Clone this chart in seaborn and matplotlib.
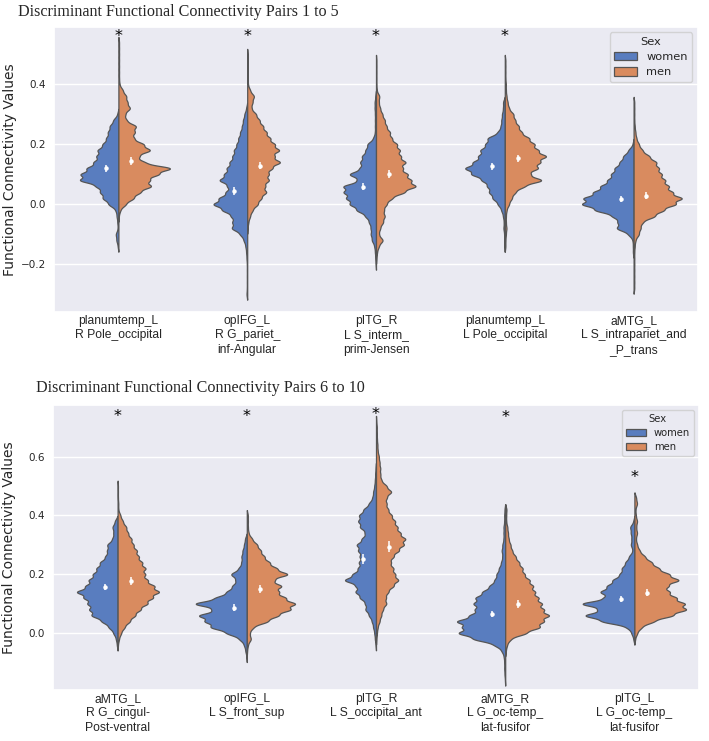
import numpy as np
import pandas as pd
import matplotlib
matplotlib.use("Agg")
import matplotlib.pyplot as plt
import seaborn as sns

# ---------------- data ----------------
SEX = ["women", "men"]
PALETTE = ["#4878D0", "#EE854A"]

TOP_PAIRS = ["planumtemp_L\nR Pole_occipital", "opIFG_L\nR G_pariet_\ninf-Angular",
             "pITG_R\nL S_interm_\nprim-Jensen", "planumtemp_L\nL Pole_occipital",
             "aMTG_L\nL S_intrapariet_and\n_P_trans"]
BOT_PAIRS = ["aMTG_L\nR G_cingul-\nPost-ventral", "opIFG_L\nL S_front_sup",
             "pITG_R\nL S_occipital_ant", "aMTG_R\nL G_oc-temp_\nlat-fusifor",
             "pITG_L\nL G_oc-temp_\nlat-fusifor"]

# value levels (bin centres) and the relative frequency at each level,
# read from the violin widths
TOP_LEVELS = [0.56, 0.54, 0.52, 0.50, 0.48, 0.46, 0.44, 0.42, 0.40, 0.38,
              0.36, 0.34, 0.32, 0.30, 0.28, 0.26, 0.24, 0.22, 0.20, 0.18,
              0.16, 0.14, 0.12, 0.10, 0.08, 0.06, 0.04, 0.02, 0.00, -0.02,
              -0.04, -0.06, -0.08, -0.10, -0.12, -0.14, -0.16, -0.18, -0.20, -0.22,
              -0.24, -0.26, -0.28, -0.30, -0.32]
TOP_WOMEN = [
    [0,0,0,0,0, 0,0,0,0,0, 0,0,0,3,15, 25,30,35,45,60, 62,70,90,108,112, 62,52,45,28,8, 5,3,2,8,6, 2,0,0,0,0, 0,0,0,0,0],
    [0,0,0,0,0, 0,0,0,0,0, 0,0,3,8,12, 15,20,25,30,38, 42,50,58,65,80, 55,60,80,98,70, 45,42,45,20,10, 5,3,2,1,1, 1,1,1,2,0],
    [0,0,0,0,0, 0,0,0,0,0, 2,4,4,3,3, 3,3,8,25,30, 40,45,45,78,50, 95,92,85,75,55, 30,20,15,15,12, 5,3,2,1,0, 0,0,0,0,0],
    [0,0,0,0,0, 0,0,0,0,0, 0,5,5,8,10, 12,20,50,55,70, 75,90,115,95,65, 50,45,35,20,10, 5,3,4,2,1, 1,0,0,0,0, 0,0,0,0,0],
    [0,0,0,0,0, 0,0,0,0,0, 0,0,0,0,0, 0,0,0,3,15, 30,40,55,65,75, 95,115,145,150,110, 60,45,50,15,3, 2,2,0,0,0, 0,0,0,0,0],
]
TOP_MEN = [
    [0,2,2,2,2, 2,2,2,3,12, 22,25,33,18,22, 50,45,42,70,90, 55,70,150,110,85, 92,60,42,20,5, 1,0,0,0,0, 0,0,0,0,0, 0,0,0,0,0],
    [0,0,0,1,1, 1,1,1,2,8, 20,15,12,25,35, 45,55,65,78,92, 75,95,70,60,62, 50,55,40,30,15, 8,3,1,0,0, 0,0,0,0,0, 0,0,0,0,0],
    [0,0,0,0,1, 1,1,1,1,2, 10,8,12,18,25, 30,40,45,60,68, 70,85,75,90,100, 115,80,45,30,22, 25,20,12,8,20, 8,3,1,0,0, 0,0,0,0,0],
    [0,0,0,0,2, 2,2,2,3,3, 5,8,12,25,30, 40,48,70,85,95, 120,100,95,70,110, 55,30,20,12,5, 3,3,5,3,2, 2,0,0,0,0, 0,0,0,0,0],
    [0,0,0,0,0, 0,0,0,0,0, 0,2,2,2,2, 3,5,8,15,25, 45,65,72,80,90, 100,110,140,120,85, 60,25,20,15,5, 3,2,2,2,2, 2,2,2,0,0],
]

BOT_LEVELS = [0.72, 0.70, 0.68, 0.66, 0.64, 0.62, 0.60, 0.58, 0.56, 0.54,
              0.52, 0.50, 0.48, 0.46, 0.44, 0.42, 0.40, 0.38, 0.36, 0.34,
              0.32, 0.30, 0.28, 0.26, 0.24, 0.22, 0.20, 0.18, 0.16, 0.14,
              0.12, 0.10, 0.08, 0.06, 0.04, 0.02, 0.00, -0.02, -0.04, -0.06,
              -0.08, -0.10, -0.12, -0.14, -0.16]
BOT_WOMEN = [
    [0,0,0,0,0, 0,0,0,0,0, 0,0,0,0,0, 0,0,8,15,12, 15,30,30,35,50, 60,70,82,90,118, 95,85,80,75,45, 25,12,5,2,0, 0,0,0,0,0],
    [0,0,0,0,0, 0,0,0,0,0, 0,0,0,0,0, 0,0,0,0,0, 5,8,12,15,15, 22,45,30,40,55, 85,148,90,135,115, 100,55,20,8,4, 1,0,0,0,0],
    [0,0,0,0,0, 0,0,0,1,2, 3,5,8,10,20, 35,48,50,45,30, 40,55,50,45,48, 50,65,90,55,58, 45,30,30,20,12, 8,5,3,1,0, 0,0,0,0,0],
    [0,0,0,0,0, 0,0,0,0,0, 0,0,0,0,0, 2,3,3,5,5, 5,8,10,8,12, 18,25,30,45,65, 85,90,85,100,140, 120,135,90,30,10, 4,3,3,2,1],
    [0,0,0,0,0, 0,0,0,0,0, 0,0,0,0,0, 0,0,3,12,10, 8,10,5,15,25, 35,40,60,75,95, 80,150,95,140,90, 20,8,3,0,0, 0,0,0,0,0],
]
BOT_MEN = [
    [0,0,0,0,0, 0,0,0,0,0, 0,1,1,1,2, 2,8,15,25,30, 40,45,55,60,70, 80,78,85,105,120, 100,85,65,50,35, 20,10,4,1,0, 0,0,0,0,0],
    [0,0,0,0,0, 0,0,0,0,0, 0,0,0,0,0, 0,3,3,3,5, 15,30,40,50,65, 85,120,75,100,90, 110,140,125,90,60, 18,8,12,3,1, 0,0,0,0,0],
    [1,2,2,3,4, 5,8,10,12,12, 15,30,45,30,30, 35,45,55,62,70, 85,80,65,50,42, 50,55,65,50,35, 28,30,20,15,10, 5,3,1,0,0, 0,0,0,0,0],
    [0,0,0,0,0, 0,0,0,0,0, 0,0,0,0,0, 4,3,3,6,8, 10,15,20,30,40, 50,55,70,80,85, 95,105,110,127,110, 100,60,15,5,2, 0,0,0,0,0],
    [0,0,0,0,0, 0,0,0,0,0, 0,0,0,5,8, 3,4,8,5,8, 4,8,15,30,50, 70,100,130,95,100, 120,145,150,110,55, 20,8,2,0,0, 0,0,0,0,0],
]

# group means and their confidence half-widths
TOP_MEAN_W = [0.120, 0.044, 0.059, 0.126, 0.018]
TOP_MEAN_M = [0.144, 0.129, 0.101, 0.153, 0.029]
TOP_CI_W = [0.012, 0.012, 0.012, 0.011, 0.010]
TOP_CI_M = [0.012, 0.013, 0.012, 0.012, 0.011]
BOT_MEAN_W = [0.156, 0.087, 0.253, 0.065, 0.116]
BOT_MEAN_M = [0.178, 0.149, 0.294, 0.100, 0.138]
BOT_CI_W = [0.011, 0.011, 0.017, 0.011, 0.011]
BOT_CI_M = [0.013, 0.013, 0.018, 0.013, 0.013]

# significance stars (y position in data units; None = no star)
TOP_STARS = [0.560, 0.560, 0.560, 0.560, None]
BOT_STARS = [0.735, 0.735, 0.742, 0.732, 0.528]

TITLES = ["Discriminant Functional Connectivity Pairs 1 to 5",
          "Discriminant Functional Connectivity Pairs 6 to 10"]
YLABEL = "Functional Connectivity Values"

# ---------------- styling ----------------
sns.set_theme(style="darkgrid")
plt.rcParams["font.family"] = ["DejaVu Sans"]

BW = 0.009  # kernel bandwidth in data units
REPL = 20   # sample replication per unit of peak frequency


def bw_rule(kde):
    return BW / np.std(kde.dataset, ddof=1)


fig = plt.figure(figsize=(7.09, 7.41), dpi=100)
ax_top = fig.add_axes([54 / 709, 1 - 312 / 741, 644 / 709, (312 - 26.7) / 741])
ax_bot = fig.add_axes([53 / 709, 1 - 690 / 741, 646 / 709, (690 - 405) / 741])


def draw(ax, pairs, levels, women, men, mw, mm, cw, cm, stars, ylim, yticks,
         legend_fs, legend_sp):
    frames = []
    for i, p in enumerate(pairs):
        for sex, counts in (("women", women[i]), ("men", men[i])):
            c = np.array(counts, dtype=float)
            # sample size proportional to the peak frequency, so that the
            # 'count' normalisation keeps widths proportional to frequencies
            reps = np.rint(c * REPL * c.max() / c.sum()).astype(int)
            vals = np.repeat(np.array(levels), reps)
            frames.append(pd.DataFrame({"pair": p, "Sex": sex, "value": vals}))
    df = pd.concat(frames, ignore_index=True)
    sns.violinplot(data=df, x="pair", y="value", hue="Sex", order=pairs,
                   hue_order=SEX, palette=PALETTE, split=True, inner=None,
                   density_norm="count", common_norm=True, bw_method=bw_rule,
                   cut=2, gridsize=500, linewidth=0.9, linecolor="#555555",
                   width=0.8, ax=ax)
    xs = np.arange(len(pairs))
    ax.errorbar(xs - 0.1, mw, yerr=cw, fmt="o", color="white", ms=2.2,
                elinewidth=1.1, capsize=0, zorder=6)
    ax.errorbar(xs + 0.1, mm, yerr=cm, fmt="o", color="white", ms=2.2,
                elinewidth=1.1, capsize=0, zorder=6)
    for x, s in zip(xs, stars):
        if s is not None:
            ax.text(x, s, "*", ha="center", va="center", fontsize=11.5,
                    color="black")
    ax.set_xlim(-0.5, len(pairs) - 0.5)
    ax.set_ylim(*ylim)
    ax.set_yticks(yticks)
    ax.set_yticklabels([f"{t:.1f}".replace("-", "\u2212") for t in yticks],
                       fontsize=7.5)
    ax.set_xlabel("")
    ax.set_ylabel(YLABEL, fontsize=10)
    ax.set_xticks(xs)
    ax.set_xticklabels(pairs, fontsize=8.7, family="Liberation Sans",
                       linespacing=1.28)
    ax.tick_params(axis="x", length=0, pad=2)
    ax.tick_params(axis="y", length=0, pad=6)
    sns.move_legend(ax, "upper right", title="Sex", fontsize=legend_fs,
                    title_fontsize=legend_fs, labelspacing=legend_sp,
                    handleheight=0.75)


draw(ax_top, TOP_PAIRS, TOP_LEVELS, TOP_WOMEN, TOP_MEN, TOP_MEAN_W, TOP_MEAN_M,
     TOP_CI_W, TOP_CI_M, TOP_STARS, (-0.359, 0.592), [-0.2, 0.0, 0.2, 0.4],
     8.2, 0.45)
draw(ax_bot, BOT_PAIRS, BOT_LEVELS, BOT_WOMEN, BOT_MEN, BOT_MEAN_W, BOT_MEAN_M,
     BOT_CI_W, BOT_CI_M, BOT_STARS, (-0.193, 0.775), [0.0, 0.2, 0.4, 0.6],
     7.2, 0.4)

ax_top.yaxis.set_label_coords(-0.058, 0.5)
ax_bot.yaxis.set_label_coords(-0.058, 0.5)

fig.text(18 / 709, 1 - 12 / 741, TITLES[0], family="Liberation Serif",
         fontsize=11.6, ha="left", va="center")
fig.text(36 / 709, 1 - 388 / 741, TITLES[1], family="Liberation Serif",
         fontsize=11.6, ha="left", va="center")

fig.savefig("out.png", dpi=100)
